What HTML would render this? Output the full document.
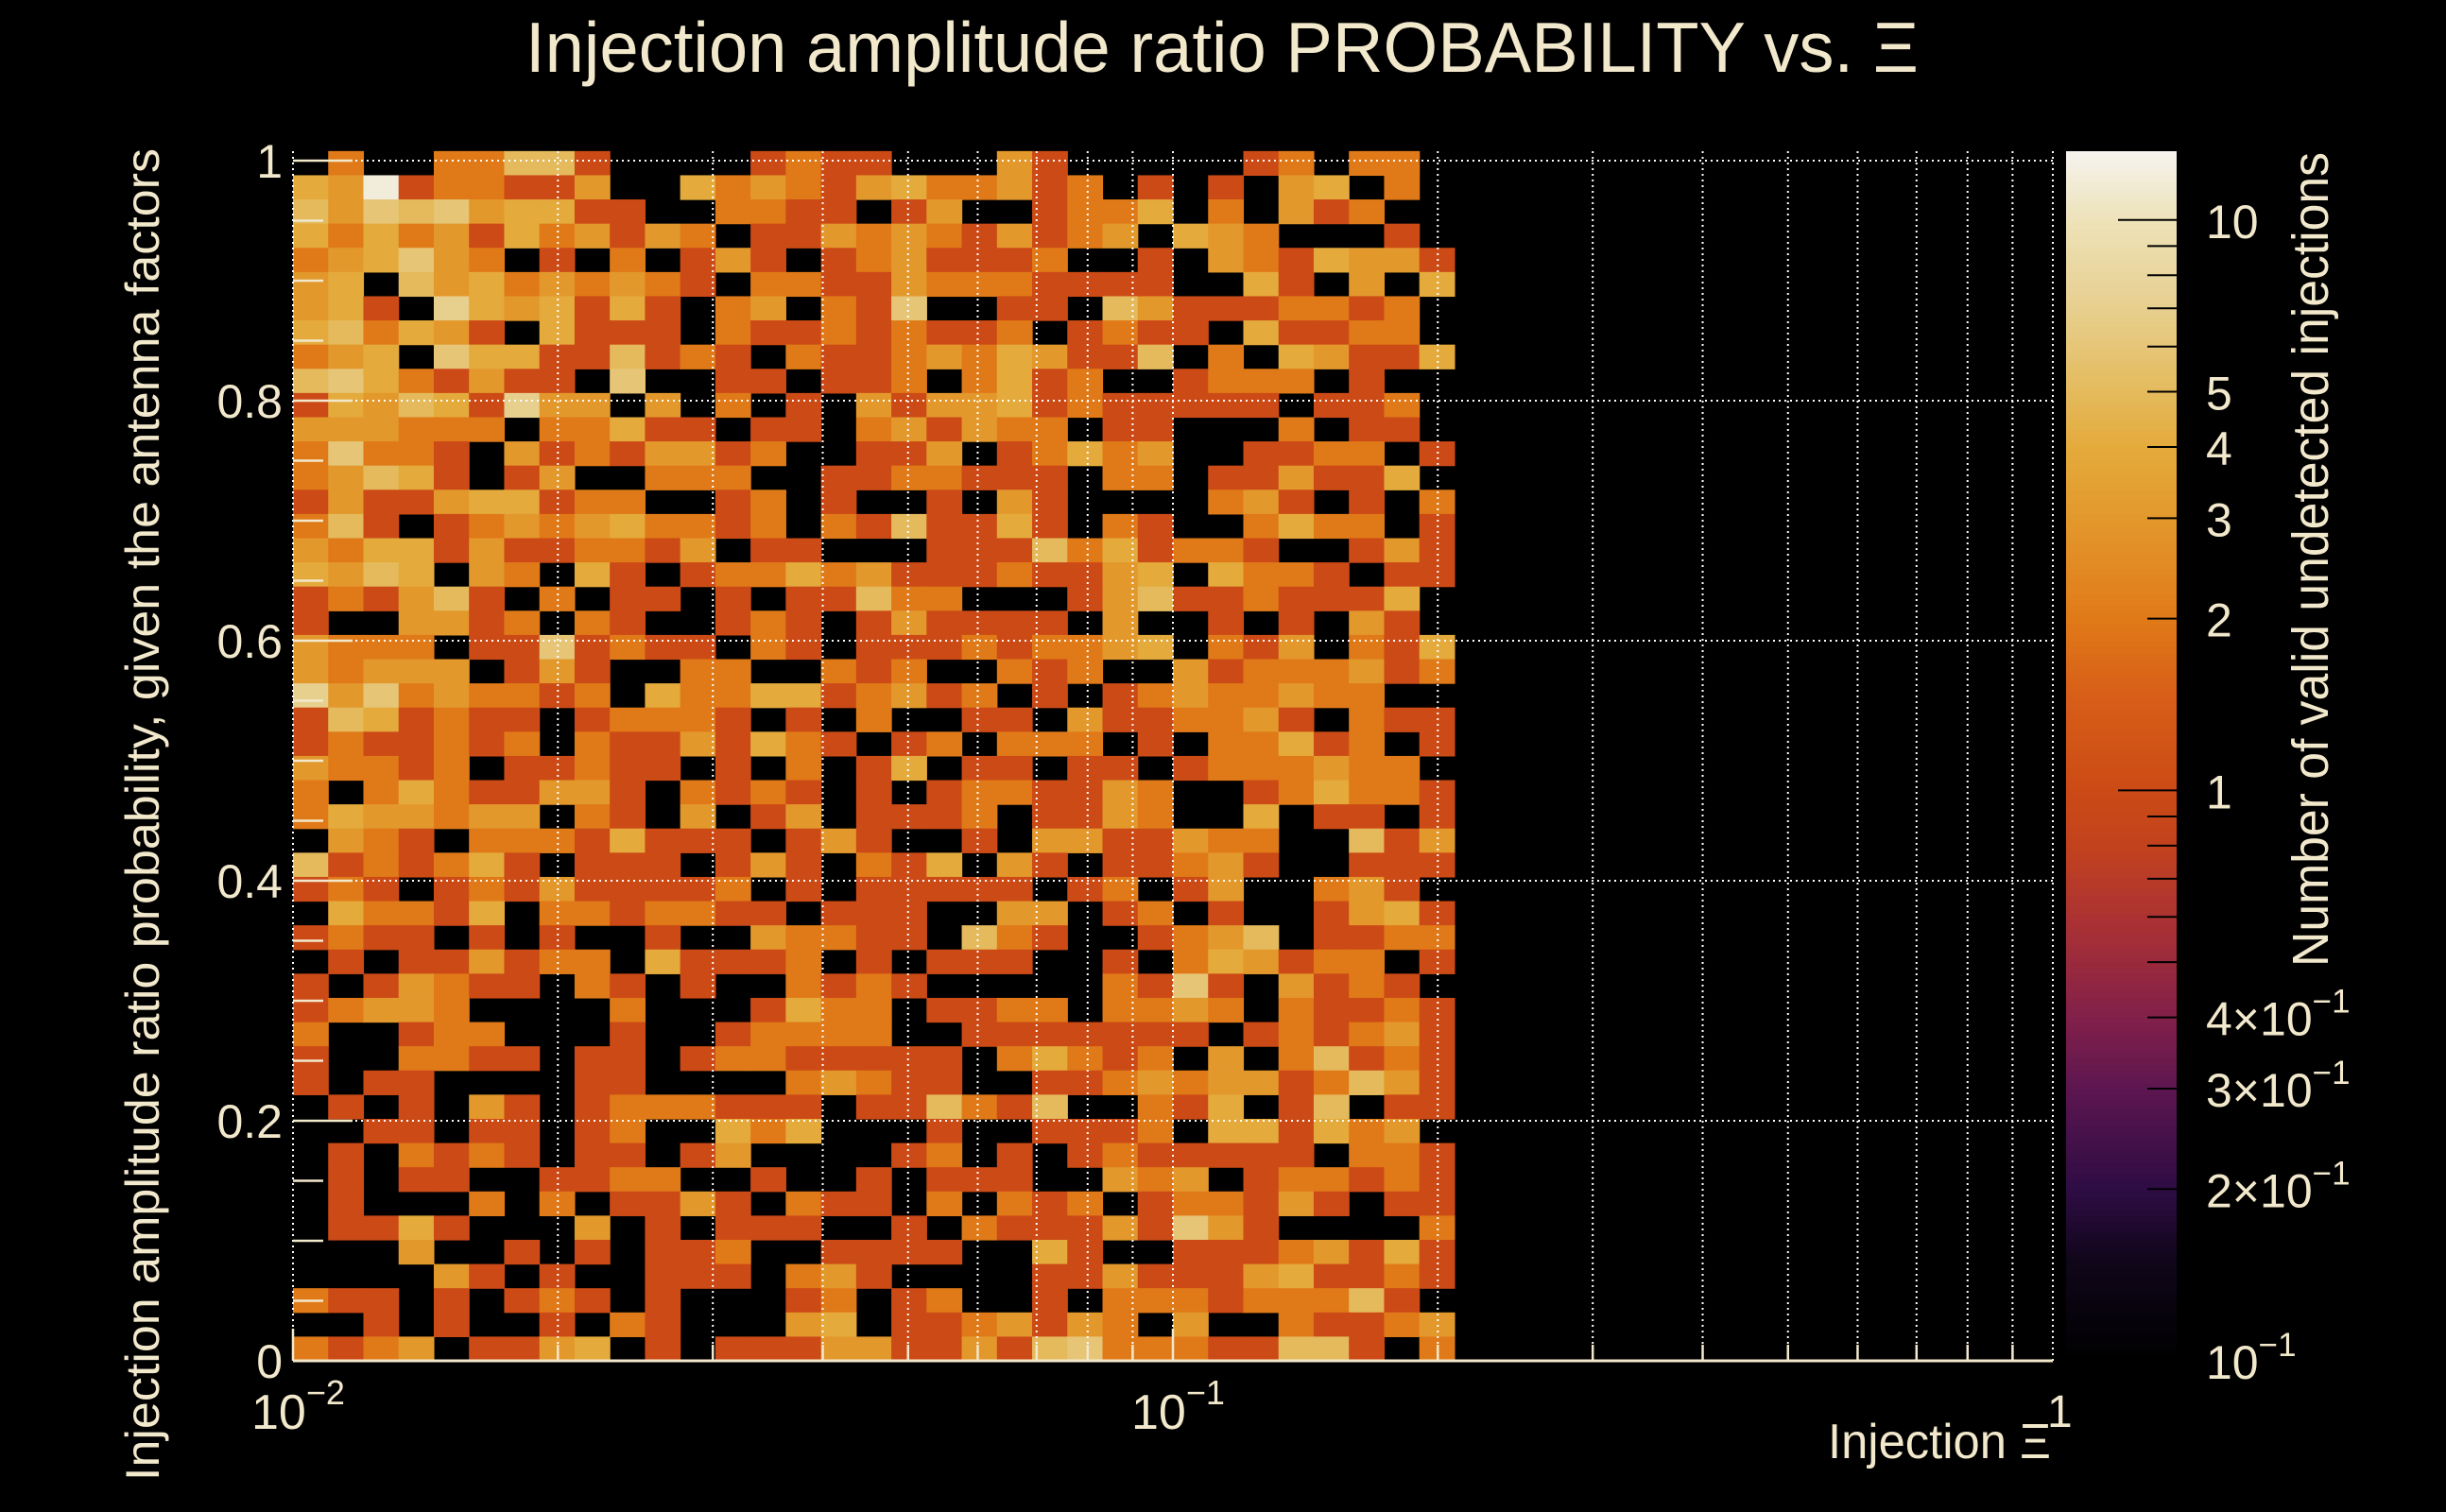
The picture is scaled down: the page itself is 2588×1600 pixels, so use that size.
<!DOCTYPE html>
<html><head><meta charset="utf-8"><style>
html,body{margin:0;padding:0;background:#000;}
svg{display:block;}
text{font-family:"Liberation Sans",sans-serif;fill:#f2e8cc;}
</style></head><body>
<svg id="chart" width="2588" height="1600" viewBox="0 0 2588 1600" xmlns="http://www.w3.org/2000/svg">
<rect x="0" y="0" width="2588" height="1600" fill="#000"/>
<g id="cells"></g>
<g id="grid"></g>
<g id="axes"></g>
<g id="cbar"></g>
<text x="556" y="76" font-size="75" textLength="1474" lengthAdjust="spacingAndGlyphs">Injection amplitude ratio PROBABILITY vs.  Ξ</text>
<text x="1934" y="1543" font-size="52" textLength="236" lengthAdjust="spacingAndGlyphs">Injection Ξ</text>
<text transform="translate(168,1567) rotate(-90)" x="0" y="0" font-size="50" textLength="1410" lengthAdjust="spacingAndGlyphs">Injection amplitude ratio probability, given the antenna factors</text>
<text transform="translate(2463,1023) rotate(-90)" x="0" y="0" font-size="54" textLength="862" lengthAdjust="spacingAndGlyphs">Number of valid undetected injections</text>
</svg>
<script>
// counts per bin, rows top (highest y) to bottom, 33 log-x bins; '0'=empty, 'c'=12
const counts = [
"020022551000012110003100000120220",
"43c122113004232134223120101034020",
"536563441100221101300122402031200",
"424231423132011323213123043200010",
"234632010201310123111200103214331",
"340534232321022113222111100410304",
"341074341410230216001105311122120",
"452431041110211212112012110411220",
"234064411512102112324311502043114",
"564213110600110112024120012220100",
"143541733030201031334121111101120",
"333222022411011023132201100020110",
"262210312133120011301242300112201",
"235410130022200112211102201131140",
"131134412200120100103100002310102",
"251012323422120215114102100242201",
"324413112213011000111524122100131",
"435403204101224231112113404221011",
"121351020110101152200013511211140",
"100331202100121013111103001010310",
"322201161211021011121223402130214",
"323330131002200212002120031222312",
"736232212042244123120101232232200",
"154121101222101020011031122310211",
"121121202113142101202220102241201",
"322120112110102014011011012223220",
"202421133102121010122113200124221",
"243323302103013011120113200401101",
"032102221411101310010331132200513",
"512124101110131021403101123100111",
"121012131111201011111012013002310",
"042214022122110111003301201001341",
"121101010010032211052100123501122",
"010113122041112010111001024312201",
"101321102101002121000002161031210",
"123320000200014220112202232021121",
"200122000100122220011111110121231",
"100221101101221111102421203025121",
"101100001100002321100112323312531",
"010103101222111011521500214015011",
"001101101200424000100111204414230",
"010212101101300001201012111110221",
"010110011220010010111003230122121",
"010002020113102110202120122131011",
"011410003010111001021113163100002",
"000300101011200111100410011123141",
"000031010011102310000113111341121",
"211010121010001201200102221222510",
"001010010210003401123132030021123",
"212301134010111331131562221155102"
];
const xLogMin = -2;
const xLogBinWidth = 0.04;
const yBinWidth = 1.008/50;
const yTickValues = [0, 0.2, 0.4, 0.6, 0.8, 1];
const yTickLabels = ["0", "0.2", "0.4", "0.6", "0.8", "1"];
const xDecades = [-2, -1, 0];
const xDecadeLabels = ["10", "10", "1"];
const xDecadeExps = ["−2", "−1", ""];
const zMin = 0.1, zMax = 13.2;
const cbarMajor = [0.1, 1, 10];
const cbarLabels = [
  {v:10, t:"10"}, {v:5, t:"5"}, {v:4, t:"4"}, {v:3, t:"3"}, {v:2, t:"2"}, {v:1, t:"1"},
  {v:0.4, t:"4×10", e:"−1"}, {v:0.3, t:"3×10", e:"−1"}, {v:0.2, t:"2×10", e:"−1"}, {v:0.1, t:"10", e:"−1"}
];

const PX0 = 310, PX1 = 2172, PY0 = 1440, PYUNIT = 1270;
function xs(logv){ return PX0 + (logv + 2) / 2 * (PX1 - PX0); }
function ys(v){ return PY0 - v * PYUNIT; }
const CB_X0 = 2186, CB_X1 = 2303, CB_Y0 = 1440, CB_Y1 = 160;
function zs(v){ return CB_Y0 - (Math.log10(v) - Math.log10(zMin)) / (Math.log10(zMax) - Math.log10(zMin)) * (CB_Y0 - CB_Y1); }

const stops = [
 [0.1,"#000000"],[0.15,"#10061a"],[0.2,"#2e0c44"],[0.3,"#5c1650"],[0.4,"#82204a"],
 [0.6,"#ac3232"],[0.8,"#c2421e"],[1,"#cc4a16"],[1.5,"#d86018"],[2,"#e07a18"],
 [3,"#e3982c"],[4,"#e4aa3c"],[5,"#e4ba5c"],[7,"#e7cf8e"],[10,"#ede2b8"],[13.2,"#f5f3ee"]
];
function hex2rgb(h){ return [parseInt(h.substr(1,2),16),parseInt(h.substr(3,2),16),parseInt(h.substr(5,2),16)]; }
function cmap(v){
  if (v <= stops[0][0]) return stops[0][1];
  for (let i=1;i<stops.length;i++){
    if (v <= stops[i][0]){
      const a = Math.log10(stops[i-1][0]), b = Math.log10(stops[i][0]);
      const t = (Math.log10(v) - a) / (b - a);
      const c0 = hex2rgb(stops[i-1][1]), c1 = hex2rgb(stops[i][1]);
      return "rgb(" + c0.map((c,k)=>Math.round(c + (c1[k]-c)*t)).join(",") + ")";
    }
  }
  return stops[stops.length-1][1];
}

const NS = "http://www.w3.org/2000/svg";
function mk(tag, attrs, parent){
  const e = document.createElementNS(NS, tag);
  for (const k in attrs) e.setAttribute(k, attrs[k]);
  parent.appendChild(e);
  return e;
}

const gCells = document.getElementById("cells");
const nRows = counts.length;
counts.forEach((row, ri) => {
  const yi = nRows - 1 - ri;
  for (let ci = 0; ci < row.length; ci++){
    const ch = row[ci];
    const v = ch === "c" ? 12 : parseInt(ch, 10);
    if (!v) continue;
    const x0 = xs(xLogMin + ci * xLogBinWidth), x1 = xs(xLogMin + (ci+1) * xLogBinWidth);
    const y0 = ys(yi * yBinWidth), y1 = ys((yi+1) * yBinWidth);
    const r = mk("rect", {x:x0.toFixed(2), y:y1.toFixed(2), width:(x1-x0+0.6).toFixed(2), height:(y0-y1+0.6).toFixed(2), fill:cmap(v)}, gCells);
    
    
  }
});

const gGrid = document.getElementById("grid");
const gridStyle = {stroke:"#ffffff", "stroke-width":"2", "stroke-dasharray":"2 4"};
for (let d = -2; d < 0; d++){
  for (let m = 1; m <= 9; m++){
    const lx = d + Math.log10(m);
    if (lx <= -2) continue;
    const X = xs(lx);
    const l = mk("line", Object.assign({x1:X, x2:X, y1:PY0, y2:160}, gridStyle), gGrid);
    
    
  }
}
yTickValues.forEach(v => {
  if (v === 0) return;
  const Y = ys(v);
  const l = mk("line", Object.assign({x1:PX0, x2:PX1, y1:Y, y2:Y}, gridStyle), gGrid);
  
  
});
{
  const l = mk("line", Object.assign({x1:PX0, x2:PX0, y1:PY0, y2:160}, gridStyle), gGrid);
  
  
  const r = mk("line", Object.assign({x1:PX1, x2:PX1, y1:PY0, y2:160}, gridStyle), gGrid);
  
  
}

const gAx = document.getElementById("axes");
const axCol = "#f2e8cc";
{
  const b = mk("line", {x1:PX0, x2:PX1, y1:PY0, y2:PY0, stroke:axCol, "stroke-width":"3"}, gAx);
  
  
}
for (let k = 0; k <= 20; k++){
  const v = k * 0.05, Y = ys(v);
  const len = (k % 4 === 0) ? 63 : 32;
  const t = mk("line", {x1:PX0, x2:PX0+len, y1:Y, y2:Y, stroke:axCol, "stroke-width":"2.5"}, gAx);
  
  
}
yTickValues.forEach((v,i) => {
  const t = mk("text", {x:299, y:ys(v)+18, "font-size":"50", "text-anchor":"end"}, gAx);
  t.textContent = yTickLabels[i];
  
  
});
for (let d = -2; d < 0; d++){
  for (let m = 1; m <= 9; m++){
    const X = xs(d + Math.log10(m));
    const len = m === 1 ? 34 : 17;
    const t = mk("line", {x1:X, x2:X, y1:PY0, y2:PY0-len, stroke:axCol, "stroke-width":"2.5"}, gAx);
    
    
  }
}
xDecades.forEach((d,i) => {
  const X = xs(d);
  if (xDecadeExps[i]){
    const t = mk("text", {x:X-44, y:1512, "font-size":"52"}, gAx);
    t.textContent = xDecadeLabels[i];
    const ex = mk("tspan", {dy:"-26", "font-size":"36"}, t);
    ex.textContent = xDecadeExps[i];
    
    
  } else {
    const t = mk("text", {x:X-6, y:1510, "font-size":"48"}, gAx);
    t.textContent = xDecadeLabels[i];
    
    
  }
});

const gCb = document.getElementById("cbar");
const NSTRIP = 200;
for (let i = 0; i < NSTRIP; i++){
  const la = Math.log10(zMin) + (Math.log10(zMax)-Math.log10(zMin)) * i / NSTRIP;
  const lb = Math.log10(zMin) + (Math.log10(zMax)-Math.log10(zMin)) * (i+1) / NSTRIP;
  const ya = zs(Math.pow(10,la)), yb = zs(Math.pow(10,lb));
  const r = mk("rect", {x:CB_X0, y:yb.toFixed(2), width:CB_X1-CB_X0, height:(ya-yb+0.8).toFixed(2), fill:cmap(Math.pow(10,(la+lb)/2))}, gCb);
  
  
}
for (let d = -1; d <= 1; d++){
  for (let m = 1; m <= 9; m++){
    const v = m * Math.pow(10, d);
    if (v < zMin || v > zMax) continue;
    const Y = zs(v);
    const len = (m === 1) ? 62 : 31;
    const t = mk("line", {x1:CB_X1-len, x2:CB_X1, y1:Y, y2:Y, stroke:"#000", "stroke-width":"2"}, gCb);
    
    
  }
}
cbarLabels.forEach(o => {
  const t = mk("text", {x:2334, y:zs(o.v)+19, "font-size":"50"}, gCb);
  t.textContent = o.t;
  if (o.e){
    const ex = mk("tspan", {dy:"-24", "font-size":"35"}, t);
    ex.textContent = o.e;
  }
  
  
});
</script>
</body></html>
